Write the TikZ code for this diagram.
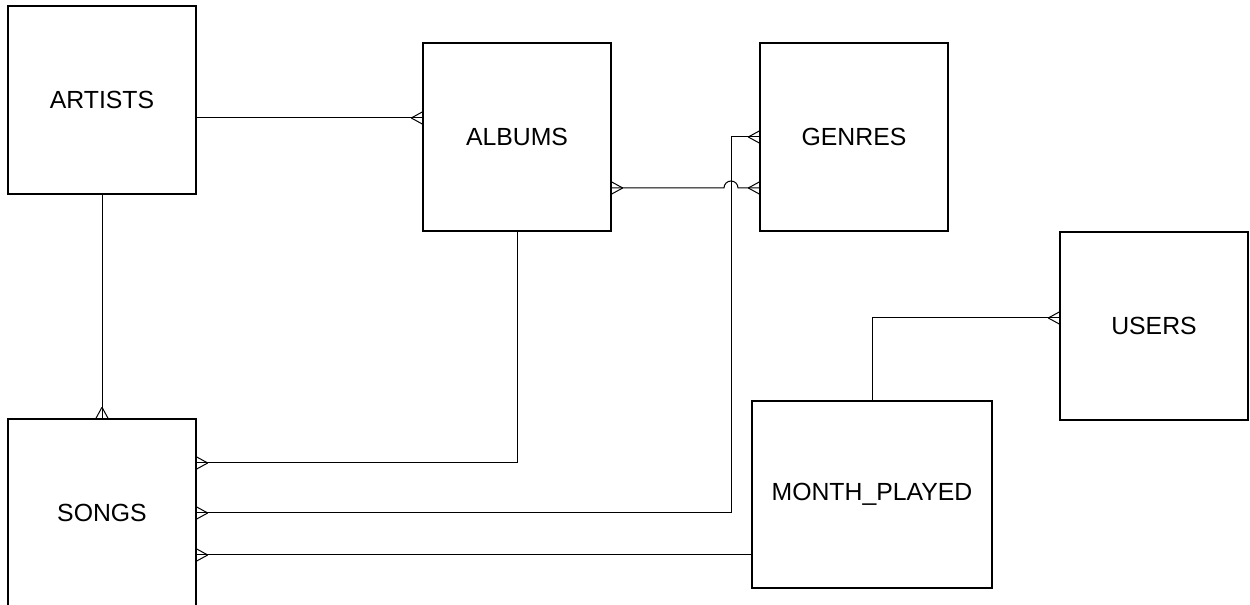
\documentclass[tikz,border=0pt]{standalone}
\usepackage{fontspec}
\setmainfont{Liberation Sans}
\usepackage{tikz}
\usetikzlibrary{arrows.meta, positioning, decorations.markings}

\tikzset{
  entity/.style={draw, line width=0.75pt, rectangle, minimum width=94pt, minimum height=94pt,
    inner sep=0pt, font=\fontsize{12.4}{15}\selectfont},
  link/.style={line width=0.5pt},
  many end/.style={postaction={decorate, decoration={markings, mark=at position 1 with
    {\draw[line width=0.5pt] (-5.5pt,0) -- (0,3pt) (-5.5pt,0) -- (0,-3pt);}}}},
  many start/.style={postaction={decorate, decoration={markings, mark=at position 0 with
    {\draw[line width=0.5pt] (5.5pt,0) -- (0,3pt) (5.5pt,0) -- (0,-3pt);}}}},
}

\begin{document}
\begin{tikzpicture}[x=0.5pt,y=0.5pt]
\useasboundingbox (0,0) rectangle (1250,605);
\node[entity] (artists) at (102,505) {ARTISTS};
\node[entity] (albums) at (517,468) {ALBUMS};
\node[entity] (genres) at (854,468) {GENRES};
\node[entity] (users) at (1154,279) {USERS};
\node[entity, minimum width=120pt, minimum height=93.5pt] (monthplayed) at (872,110.5) {MONTH\_PLAYED};
\node[entity] (songs) at (102,92) {SONGS};

\coordinate (jump) at (731,0);
\coordinate (albumsin) at ([yshift=9.5pt]albums.west);
\coordinate (albumsout) at ([yshift=-25.5pt]albums.east);
\coordinate (songsA) at ([yshift=25pt]songs.east);
\coordinate (songsM) at ([yshift=-21pt]songs.east);
\coordinate (usersin) at ([yshift=4pt]users.west);

\draw[link, many end] (artists.east |- albumsin) -- (albumsin);
\draw[link, many end] (artists.south) -- (songs.north);
\draw[link, many end] (albums.south) |- (songsA);
\draw[link, many start, many end] (albumsout) -- ([xshift=-3.5pt]jump |- albumsout)
  arc[start angle=180, end angle=0, radius=3.5pt] -- (genres.west |- albumsout);
\draw[link, many start, many end] (songs.east) -- (songs.east -| jump) -- (genres.west -| jump) -- (genres.west);
\draw[link, many start] (songsM) -- (monthplayed.west |- songsM);
\draw[link, many end] (monthplayed.north) |- (usersin);
\end{tikzpicture}
\end{document}
